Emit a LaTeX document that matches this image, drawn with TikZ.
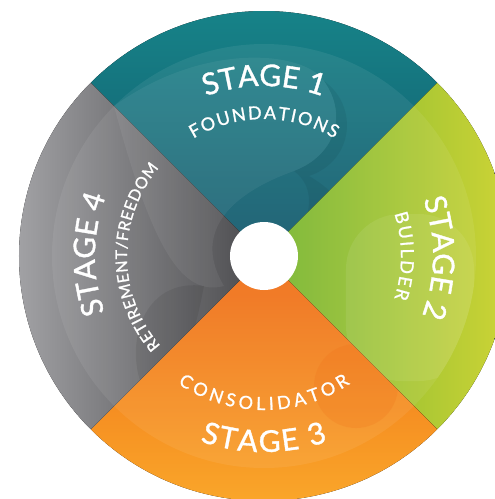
\documentclass[tikz,border=0pt]{standalone}
\usepackage{fontspec}
\setmainfont{Lato}
\newfontfamily\stagefont{Lato}[FakeBold=1.2]
\usetikzlibrary{decorations.text}

\definecolor{tealOut}{HTML}{17878B}
\definecolor{tealIn}{HTML}{12566A}
\definecolor{greenIn}{HTML}{72B32E}
\definecolor{greenOut}{HTML}{D6D737}
\definecolor{orangeIn}{HTML}{EE6814}
\definecolor{orangeOut}{HTML}{FBAC2C}
\definecolor{grayOut}{HTML}{ABABAE}
\definecolor{grayIn}{HTML}{3C3C3F}

% 弧形文字: 半徑, 起始角, 終止角, 字號, 文字
\newcommand{\arctext}[5]{%
  \path[decorate, decoration={text along path, text color=white,
      text align={fit to path}, text={|\stagefont\fontsize{#4}{#4}\selectfont|#5}}]
    (#2:#1) arc[start angle=#2, end angle=#3, radius=#1];}
% 扇形裁剪: 起始角
\newcommand{\clipwedge}[1]{%
  \clip (0, 0) -- (#1:212) arc[start angle=#1, end angle=#1+90, radius=212] -- cycle;}

\begin{document}
\begin{tikzpicture}[x=1pt, y=1pt]
    % 背景
    \fill[white] (-264, -243) rectangle (231, 256);
    \clip (-264, -243) rectangle (231, 256);
    
    % 四個扇形
    \fill[top color=tealOut, bottom color=tealIn] (0, 0) -- (45:245) arc[start angle=45, end angle=135, radius=245] -- cycle;
    \fill[left color=greenIn, right color=greenOut] (0, 0) -- (-45:245) arc[start angle=-45, end angle=45, radius=245] -- cycle;
    \fill[top color=orangeIn, bottom color=orangeOut] (0, 0) -- (225:245) arc[start angle=225, end angle=315, radius=245] -- cycle;
    \fill[left color=grayOut, right color=grayIn] (0, 0) -- (135:245) arc[start angle=135, end angle=225, radius=245] -- cycle;
    
    % 淡色內環
    \fill[white, opacity=0.07] (0, 0) circle (212);
    
    % 淡色漩渦
    \begin{scope}
      \clip (0, 0) circle (212);
      \fill[white, opacity=0.06] (-150, 150) .. controls (-60, 215) and (40, 205) .. (60, 175)
        .. controls (85, 140) and (70, 100) .. (30, 85) .. controls (-40, 60) and (-70, 20) .. (-40, -30)
        .. controls (-80, -40) and (-110, 0) .. (-150, 150);
    \end{scope}
    \begin{scope}
      \clipwedge{45}
      \fill[black, opacity=0.06] (60, 175) .. controls (95, 150) and (90, 95) .. (45, 80)
        .. controls (80, 60) and (95, 30) .. (85, 0) -- (30, 10) .. controls (50, 45) and (50, 70) .. (30, 85)
        .. controls (70, 100) and (85, 140) .. (60, 175);
    \end{scope}
    \begin{scope}
      \clipwedge{-45}
      \fill[white, opacity=0.08, rounded corners=55] (82, 42) rectangle (210, -125);
    \end{scope}
    \begin{scope}
      \clipwedge{225}
      \fill[orangeIn, opacity=0.18] (92, -130) circle (42);
    \end{scope}
    \begin{scope}
      \clipwedge{135}
      \fill[black, opacity=0.07] (-60, -30) .. controls (-130, -20) and (-145, -110) .. (-110, -150)
        .. controls (-80, -120) and (-70, -80) .. (-60, -30);
    \end{scope}
    
    % 中心圓
    \fill[white] (0, 0) circle (34);
    
    % 標籤
    \arctext{170}{110}{70}{30}{STAGE 1}
    \arctext{137}{121}{59}{18}{FOUNDATIONS}
    \arctext{169}{19.5}{-19.5}{30}{STAGE 2}
    \arctext{137}{18}{-18}{18}{BUILDER}
    \arctext{196}{251}{289}{30}{STAGE 3}
    \arctext{154}{236}{304}{18}{CONSOLIDATOR}
    \arctext{169}{199.5}{160.5}{30}{STAGE 4}
    \arctext{137}{221}{140}{16}{RETIREMENT/FREEDOM}
  \end{tikzpicture}
\end{document}
